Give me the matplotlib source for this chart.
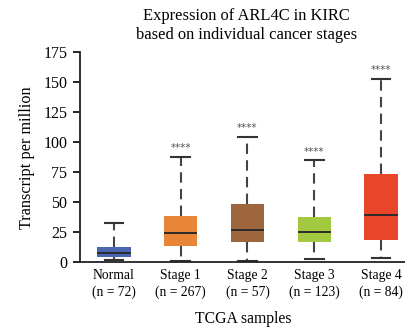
import matplotlib
matplotlib.use("Agg")
import matplotlib.pyplot as plt

# box summaries per group (transcripts per million)
groups = ["Normal", "Stage 1", "Stage 2", "Stage 3", "Stage 4"]
counts = [72, 267, 57, 123, 84]
whislo = [2.0, 1.0, 0.8, 2.5, 3.6]
q1 = [4.7, 13.9, 16.9, 16.9, 18.6]
med = [7.5, 24.7, 26.9, 25.2, 39.7]
q3 = [12.5, 38.6, 48.6, 37.7, 73.6]
whishi = [32.8, 88.0, 104.7, 85.0, 153.0]
signif = ["", "****", "****", "****", "****"]
colors = ["#4a66b2", "#e88536", "#9e663c", "#a3c940", "#e8452b"]
yticks = [0, 25, 50, 75, 100, 125, 150, 175]

plt.rcParams["font.family"] = ["Liberation Serif", "DejaVu Serif"]

fig = plt.figure(figsize=(4.06, 3.27), dpi=100)
ax = fig.add_axes([0.197, 0.198, 0.803, 0.642])

stats = []
for i in range(len(groups)):
    stats.append(dict(whislo=whislo[i], q1=q1[i], med=med[i], q3=q3[i],
                      whishi=whishi[i], fliers=[], label=groups[i]))

positions = list(range(1, len(groups) + 1))
bp = ax.bxp(stats, positions=positions, widths=0.5, patch_artist=True,
            showfliers=False, capwidths=0.28,
            boxprops=dict(linewidth=0),
            medianprops=dict(color="#2b2b2b", linewidth=1.4),
            whiskerprops=dict(color="#444444", linewidth=1.5,
                              linestyle=(0, (5, 3))),
            capprops=dict(color="#333333", linewidth=1.5))
for patch, c in zip(bp["boxes"], colors):
    patch.set_facecolor(c)
    patch.set_edgecolor(c)

for x, top, s in zip(positions, whishi, signif):
    if s:
        ax.text(x, top + 3, s, ha="center", va="bottom", fontsize=7.5,
                color="#555555", family="DejaVu Sans")

ax.set_xlim(0.491, 5.374)
ax.set_ylim(0, 175)
ax.set_yticks(yticks)
ax.set_xticks(positions)
ax.set_xticklabels([f"{g}\n(n = {n})" for g, n in zip(groups, counts)],
                   fontsize=9.8, linespacing=1.3)
ax.tick_params(axis="y", labelsize=11.5, length=5, width=1.2, pad=4)
ax.tick_params(axis="x", length=0, pad=5)
for side in ["top", "right"]:
    ax.spines[side].set_visible(False)
for side in ["left", "bottom"]:
    ax.spines[side].set_linewidth(1.3)
    ax.spines[side].set_color("#222222")

ax.set_ylabel("Transcript per million", fontsize=11.7, labelpad=6)
ax.set_xlabel("TCGA samples", fontsize=11.3, labelpad=9)
fig.text(0.608, 0.975, "Expression of ARL4C in KIRC\nbased on individual cancer stages",
         ha="center", va="top", fontsize=11.9, linespacing=1.25)

fig.savefig("out.png", dpi=100)
